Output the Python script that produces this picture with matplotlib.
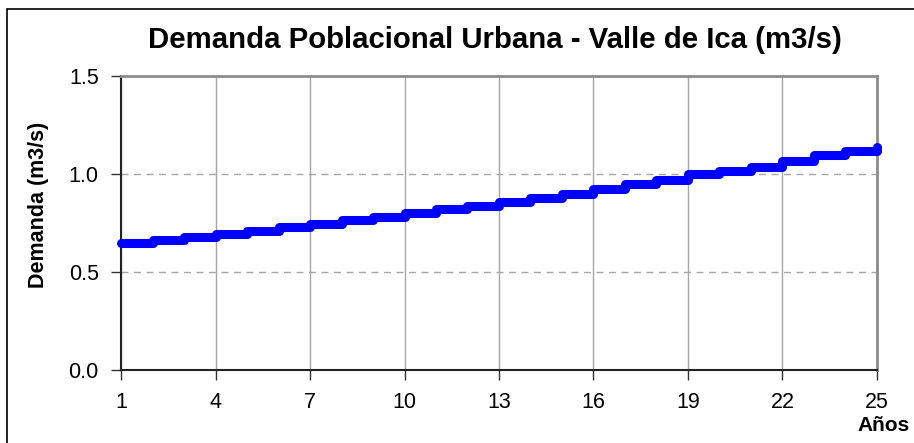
#%% IMPORTS               ~~~~~~~~~~~~~~~~~~~~~~~~~~~~~~~~~~~~~~~~~~~~
import matplotlib
matplotlib.use('Agg')
import matplotlib.pyplot as plt
from matplotlib.patches import Rectangle

#%% DATA               ~~~~~~~~~~~~~~~~~~~~~~~~~~~~~~~~~~~~~~~~~~~~
# Annual urban population demand (m3/s)
anios = list(range(1, 26))
demanda = [0.648, 0.663, 0.678, 0.696, 0.711, 0.728, 0.746, 0.765, 0.782, 0.800,
           0.819, 0.837, 0.858, 0.876, 0.897, 0.926, 0.948, 0.969, 0.998, 1.017,
           1.038, 1.066, 1.096, 1.118, 1.140]
x_ticks = list(range(1, 26, 3))
y_ticks = [0.0, 0.5, 1.0, 1.5]

titulo = 'Demanda Poblacional Urbana - Valle de Ica (m3/s)'
etiqueta_y = 'Demanda (m3/s)'
etiqueta_x = 'Años'

#%% PLOT               ~~~~~~~~~~~~~~~~~~~~~~~~~~~~~~~~~~~~~~~~~~~~
plt.rcParams['font.family'] = ['Liberation Sans', 'DejaVu Sans']

fig = plt.figure(figsize=(9.14, 4.43), dpi=100)
ax = fig.add_axes([0.1324, 0.1648, 0.8271, 0.6636])

# Yearly step line
ax.step(anios, demanda, where='post', color='#0000ff', linewidth=6.5,
        solid_joinstyle='round', solid_capstyle='round', zorder=3, clip_on=False)

ax.set_xlim(1, 25)
ax.set_ylim(0, 1.5)
ax.set_xticks(x_ticks)
ax.set_yticks(y_ticks)
ax.set_yticklabels([f'{v:.1f}' for v in y_ticks])
ax.tick_params(axis='both', labelsize=15.5, direction='out', length=7, width=1,
               color='#333333')
ax.tick_params(axis='x', pad=9)
ax.tick_params(axis='y', pad=9)

# Grid: solid vertical, dashed horizontal
ax.xaxis.grid(True, color='#a6a6a6', linewidth=1, linestyle='-')
ax.yaxis.grid(True, color='#a6a6a6', linewidth=1, linestyle=(0, (5, 4)))
ax.set_axisbelow(True)

for side in ['left', 'bottom']:
    ax.spines[side].set_color('#222222')
    ax.spines[side].set_linewidth(1.5)
for side in ['top', 'right']:
    ax.spines[side].set_color('#8c8c8c')
    ax.spines[side].set_linewidth(2)

# Labels and title
fig.text(39 / 914, 1 - 205 / 443, etiqueta_y, rotation=90, ha='center', va='center',
         fontsize=15.5, fontweight='bold')
fig.text(495 / 914, 1 - 40 / 443, titulo, ha='center', va='center',
         fontsize=21.2, fontweight='bold')
fig.text(910 / 914, 1 - 431 / 443, etiqueta_x, ha='right', va='baseline',
         fontsize=15, fontweight='bold')

# Outer chart border (only top and left visible in the crop)
fig.patches.append(Rectangle((7 / 914, -0.1), 1.2, 1.1 - 9 / 443,
                             transform=fig.transFigure, fill=False,
                             edgecolor='black', linewidth=1.2))

plt.savefig('out.png', dpi=100)
